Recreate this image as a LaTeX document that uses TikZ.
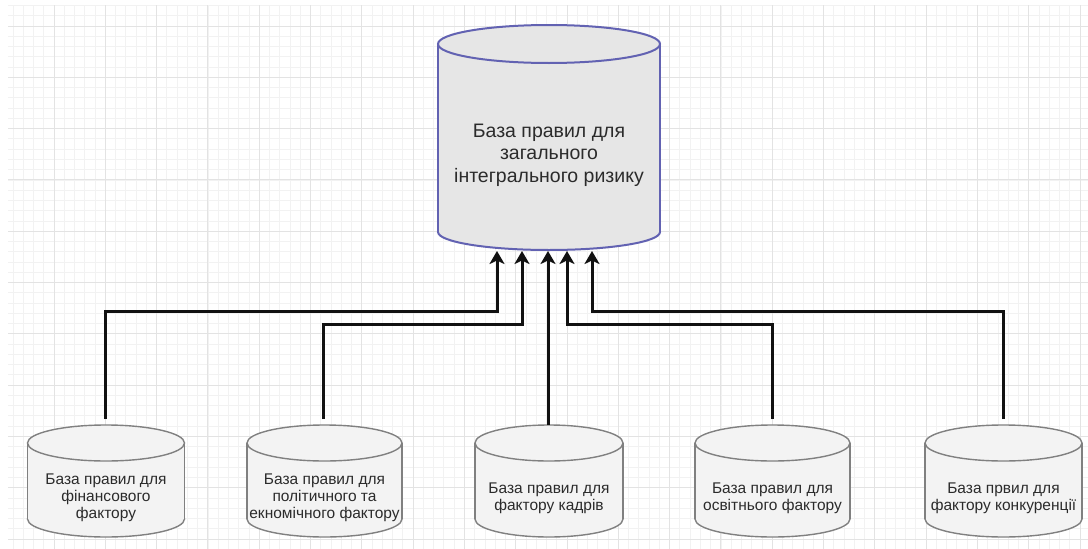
\documentclass[tikz,border=0pt]{standalone}
\usepackage{fontspec}
\setmainfont{Liberation Sans}
\usetikzlibrary{arrows.meta}
\definecolor{gridminor}{HTML}{F2F2F2}
\definecolor{gridmajor}{HTML}{E3E3E3}
\definecolor{bigfill}{HTML}{E6E6E6}
\definecolor{bigline}{RGB}{98,98,178}
\definecolor{smallfill}{HTML}{F3F3F3}
\definecolor{smallline}{HTML}{808080}
\definecolor{txt}{HTML}{2B2B2B}
\definecolor{conn}{HTML}{111111}
\tikzset{
  connector/.style={draw=conn, line width=3pt, -{Stealth[length=13pt,width=15pt,inset=3.5pt]}},
  bigtext/.style={align=center, text=txt, font=\fontsize{19.5}{22.5}\selectfont},
  smalltext/.style={align=center, text=txt, font=\fontsize{15.5}{17}\selectfont},
  smalledge/.style={draw=smallline, line width=1.4pt},
  bigedge/.style={draw=bigline, line width=2pt},
}
\begin{document}
\begin{tikzpicture}[x=1pt,y=-1pt]
\useasboundingbox (0,0) rectangle (1088,549);
\fill[white] (0,0) rectangle (1088,549);
% grid
\begin{scope}
\clip (8,5) rectangle (1088,549);
\foreach \i in {0,...,110} {
  \draw[gridminor, line width=0.8pt] ({2.7+\i*10.26},5) -- ({2.7+\i*10.26},549);
}
\foreach \i in {-3,...,55} {
  \draw[gridminor, line width=0.8pt] (8,{26+\i*10.26}) -- (1088,{26+\i*10.26});
}
\foreach \i in {0,...,22} {
  \draw[gridmajor, line width=1pt] ({2.7+\i*51.3},5) -- ({2.7+\i*51.3},549);
}
\foreach \i in {-1,...,11} {
  \draw[gridmajor, line width=1pt] (8,{26+\i*51.3}) -- (1088,{26+\i*51.3});
}
\end{scope}
% big cylinder
\filldraw[fill=bigfill, bigedge] (549,232) ellipse [x radius=111pt, y radius=18pt];
\fill[bigfill] (438,44) rectangle (660,232);
\draw[bigedge] (438,44) -- (438,232) (660,44) -- (660,232);
\filldraw[fill=bigfill, bigedge] (549,44) ellipse [x radius=111pt, y radius=19pt];
\node[bigtext] (big) at (549,155) {База правил для\\загального\\інтегрального ризику};
% small cylinders
\foreach \cx/\rx in {106/78.5, 324.5/77.5, 549/74, 772.5/77.5, 1003.5/78.5} {
  \filldraw[fill=smallfill, smalledge] (\cx,519) ellipse [x radius=\rx pt, y radius=18pt];
  \fill[smallfill] ({\cx-\rx},443) rectangle ({\cx+\rx},519);
  \draw[smalledge] ({\cx-\rx},443) -- ({\cx-\rx},519) ({\cx+\rx},443) -- ({\cx+\rx},519);
  \filldraw[fill=smallfill, smalledge] (\cx,443) ellipse [x radius=\rx pt, y radius=18pt];
}
\node[smalltext] (c1) at (106,498) {База правил для\\фінансового\\фактору};
\node[smalltext] (c2) at (324.5,498) {База правил для\\політичного та\\екномічного фактору};
\node[smalltext] (c3) at (549,498) {База правил для\\фактору кадрів};
\node[smalltext] (c4) at (772.5,498) {База правил для\\освітнього фактору};
\node[smalltext] (c5) at (1003.5,498) {База првил для\\фактору конкуренції};
% connector anchors
\coordinate (s1) at (105,419);
\coordinate (s2) at (323,419);
\coordinate (s3) at (548,425);
\coordinate (s4) at (772,419);
\coordinate (s5) at (1003,419);
\coordinate (k1) at (497,311);
\coordinate (k2) at (522,324);
\coordinate (k4) at (567,324);
\coordinate (k5) at (592,311);
\coordinate (t1) at (497,251);
\coordinate (t2) at (522,251);
\coordinate (t3) at (548,251);
\coordinate (t4) at (567,251);
\coordinate (t5) at (592,251);
\draw[connector] (s1) |- (k1) -- (t1);
\draw[connector] (s2) |- (k2) -- (t2);
\draw[connector] (s3) -- (t3);
\draw[connector] (s4) |- (k4) -- (t4);
\draw[connector] (s5) |- (k5) -- (t5);
\end{tikzpicture}
\end{document}
